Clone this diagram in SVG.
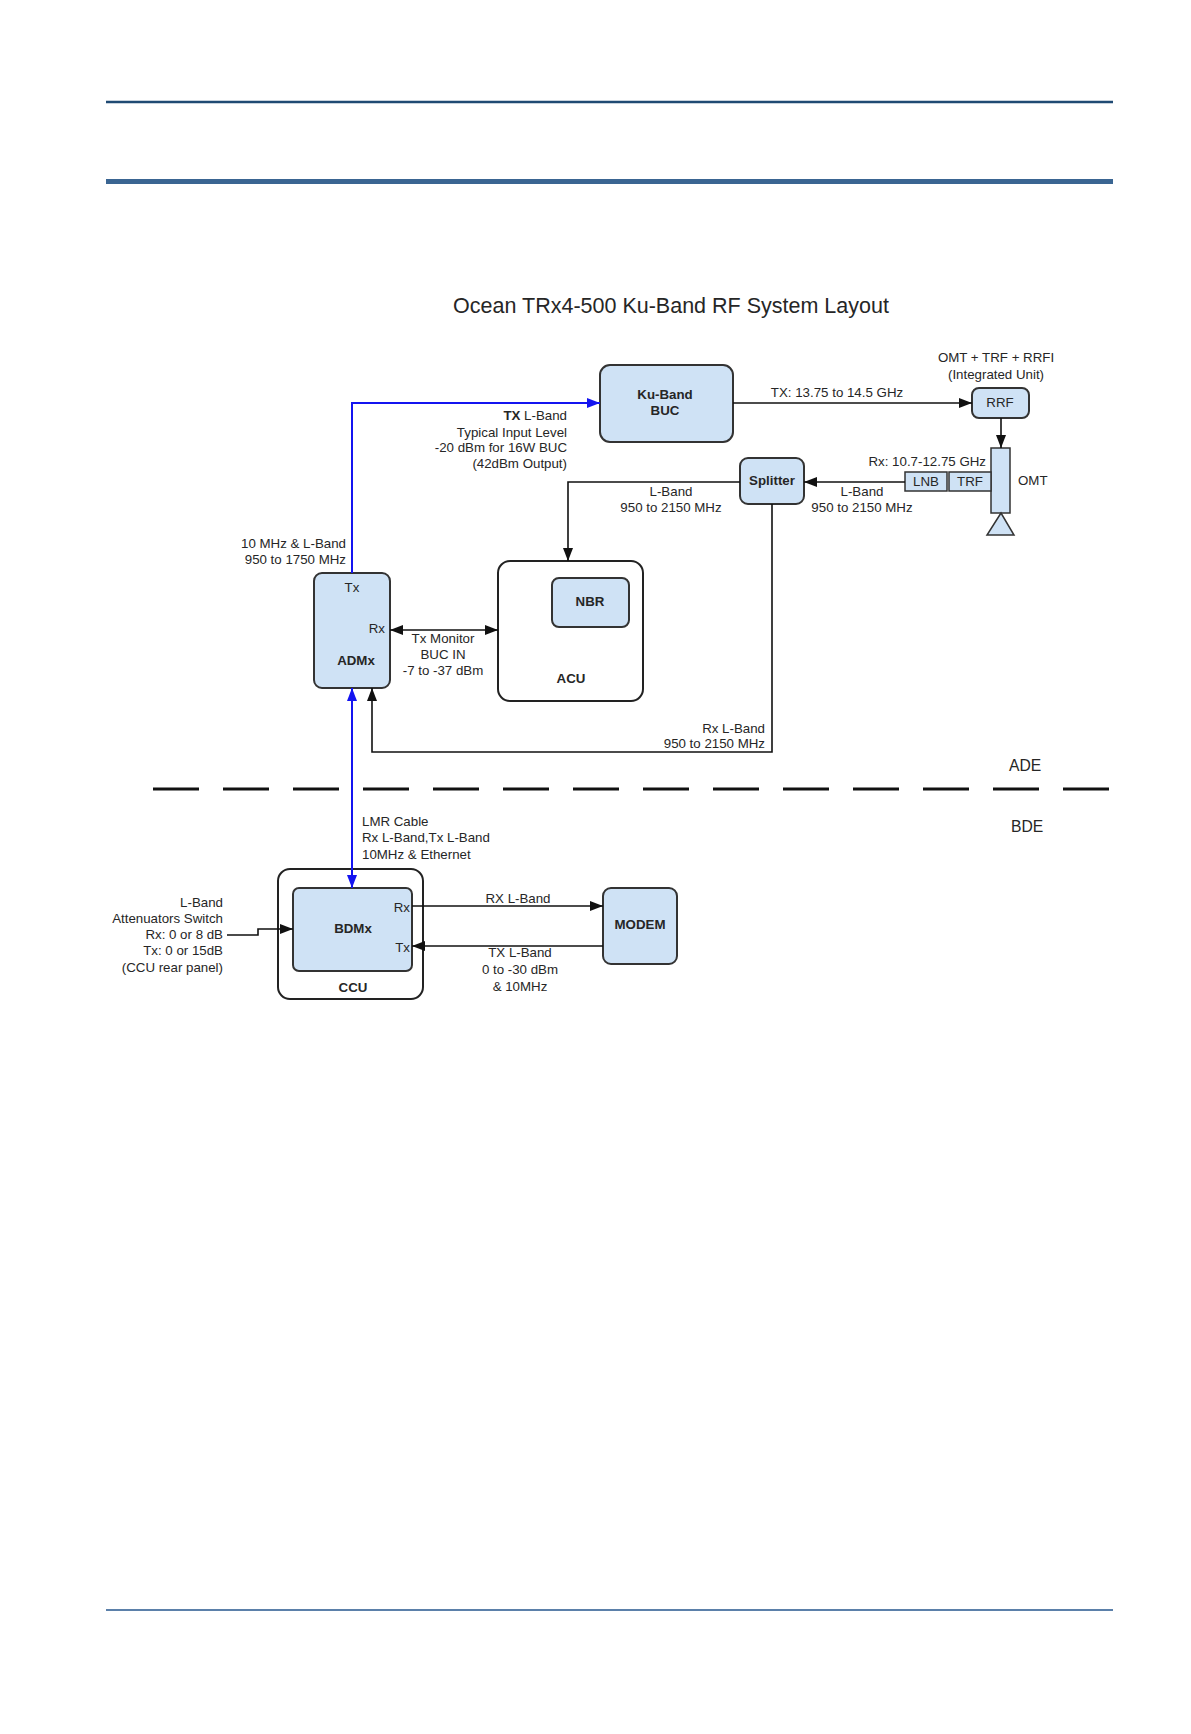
<svg xmlns="http://www.w3.org/2000/svg" width="1191" height="1734" viewBox="0 0 1191 1734">
<style>
text{font-family:"Liberation Sans",Arial,sans-serif;font-size:13.3px;fill:#262626}
.b{font-weight:bold}
.m{text-anchor:middle}
.e{text-anchor:end}
.box{fill:#cfe2f5;stroke:#333;stroke-width:2}
.wbox{fill:#fff;stroke:#222;stroke-width:2}
.c{fill:none;stroke:#111;stroke-width:1.6}
.blue{fill:none;stroke:#1414f0;stroke-width:2}
</style>
<defs>
<marker id="ah" markerUnits="userSpaceOnUse" markerWidth="13" markerHeight="10" refX="13" refY="5" orient="auto-start-reverse"><path d="M0,0 L13,5 L0,10 z" fill="#111"/></marker>
<marker id="bh" markerUnits="userSpaceOnUse" markerWidth="13" markerHeight="10" refX="13" refY="5" orient="auto-start-reverse"><path d="M0,0 L13,5 L0,10 z" fill="#1414f0"/></marker>
</defs>
<rect width="1191" height="1734" fill="#fff"/>
<g id="page">
<line x1="106" y1="102" x2="1113" y2="102" stroke="#1f4a73" stroke-width="2.5"/>
<rect x="106" y="179" width="1007" height="5" fill="#3a6592"/>
<line x1="106" y1="1610" x2="1113" y2="1610" stroke="#5b80aa" stroke-width="2"/>
<text x="671" y="313" class="m" style="font-size:21.5px">Ocean TRx4-500 Ku-Band RF System Layout</text>
<line x1="153" y1="789" x2="1109" y2="789" stroke="#111" stroke-width="3" stroke-dasharray="46 24"/>
<text x="1009" y="771" style="font-size:15.7px">ADE</text>
<text x="1011" y="832" style="font-size:15.7px">BDE</text>
</g>
<g id="buc">
<rect class="box" x="600" y="365" width="133" height="77" rx="10"/>
<text x="665" y="399" class="m b">Ku-Band</text>
<text x="665" y="415" class="m b">BUC</text>
</g>
<g id="rrf">
<text x="996" y="362" class="m">OMT + TRF + RRFI</text>
<text x="996" y="379" class="m">(Integrated Unit)</text>
<rect class="box" x="972" y="388" width="57" height="30" rx="7"/>
<text x="1000" y="407" class="m">RRF</text>
</g>
<g id="omt">
<rect class="box" x="991" y="448" width="19" height="65" style="stroke-width:1.5"/>
<path class="box" d="M1001,513 L987,535 L1014,535 z" style="stroke-width:1.5"/>
<text x="1018" y="485">OMT</text>
</g>
<g id="trf">
<rect class="box" x="949" y="472" width="42" height="19" style="stroke-width:1.5"/>
<text x="970" y="486" class="m">TRF</text>
</g>
<g id="lnb">
<rect class="box" x="905" y="472" width="42" height="19" style="stroke-width:1.5"/>
<text x="926" y="486" class="m">LNB</text>
</g>
<g id="splitter">
<rect class="box" x="740" y="458" width="64" height="46" rx="8"/>
<text x="772" y="485" class="m b">Splitter</text>
</g>
<g id="admx">
<rect class="box" x="314" y="573" width="76" height="115" rx="8"/>
<text x="352" y="592" class="m">Tx</text>
<text x="385" y="633" class="e">Rx</text>
<text x="356" y="665" class="m b">ADMx</text>
</g>
<g id="acu">
<rect class="wbox" x="498" y="561" width="145" height="140" rx="12"/>
<text x="571" y="683" class="m b">ACU</text>
</g>
<g id="nbr">
<rect class="box" x="552" y="578" width="77" height="49" rx="7"/>
<text x="590" y="606" class="m b">NBR</text>
</g>
<g id="ccu">
<rect class="wbox" x="278" y="869" width="145" height="130" rx="12"/>
<text x="353" y="992" class="m b">CCU</text>
</g>
<g id="bdmx">
<rect class="box" x="293" y="888" width="119" height="83" rx="6"/>
<text x="353" y="933" class="m b">BDMx</text>
<text x="410" y="912" class="e">Rx</text>
<text x="410" y="952" class="e">Tx</text>
</g>
<g id="modem">
<rect class="box" x="603" y="888" width="74" height="76" rx="8"/>
<text x="640" y="929" class="m b">MODEM</text>
</g>
<g id="connectors">
<path class="blue" d="M352,573 V403 H600" marker-end="url(#bh)"/>
<path class="blue" d="M352,688 V888" marker-start="url(#bh)" marker-end="url(#bh)"/>
<path class="c" d="M733,403 H972" marker-end="url(#ah)"/>
<path class="c" d="M1001,418 V448" marker-end="url(#ah)"/>
<path class="c" d="M905,482 H804" marker-end="url(#ah)"/>
<path class="c" d="M740,482 H568 V561" marker-end="url(#ah)"/>
<path class="c" d="M772,504 V752 H372 V688" marker-end="url(#ah)"/>
<path class="c" d="M390,630 H498" marker-start="url(#ah)" marker-end="url(#ah)"/>
<path class="c" d="M412,906 H603" marker-end="url(#ah)"/>
<path class="c" d="M603,946 H412" marker-end="url(#ah)"/>
<path class="c" d="M227,935 H258 V929 H293" marker-end="url(#ah)"/>
<text x="837" y="397" class="m">TX: 13.75 to 14.5 GHz</text>
<text x="567" y="420" class="e"><tspan class="b">TX</tspan> L-Band</text>
<text x="567" y="437" class="e">Typical Input Level</text>
<text x="567" y="452" class="e">-20 dBm for 16W BUC</text>
<text x="567" y="468" class="e">(42dBm Output)</text>
<text x="986" y="466" class="e">Rx: 10.7-12.75 GHz</text>
<text x="862" y="496" class="m">L-Band</text>
<text x="862" y="512" class="m">950 to 2150 MHz</text>
<text x="671" y="496" class="m">L-Band</text>
<text x="671" y="512" class="m">950 to 2150 MHz</text>
<text x="346" y="548" class="e">10 MHz &amp; L-Band</text>
<text x="346" y="564" class="e">950 to 1750 MHz</text>
<text x="443" y="643" class="m">Tx Monitor</text>
<text x="443" y="659" class="m">BUC IN</text>
<text x="443" y="675" class="m">-7 to -37 dBm</text>
<text x="765" y="733" class="e">Rx L-Band</text>
<text x="765" y="748" class="e">950 to 2150 MHz</text>
<text x="362" y="826">LMR Cable</text>
<text x="362" y="842">Rx L-Band,Tx L-Band</text>
<text x="362" y="859">10MHz &amp; Ethernet</text>
<text x="518" y="903" class="m">RX L-Band</text>
<text x="520" y="957" class="m">TX L-Band</text>
<text x="520" y="974" class="m">0 to -30 dBm</text>
<text x="520" y="991" class="m">&amp; 10MHz</text>
<text x="223" y="907" class="e">L-Band</text>
<text x="223" y="923" class="e">Attenuators Switch</text>
<text x="223" y="939" class="e">Rx: 0 or 8 dB</text>
<text x="223" y="955" class="e">Tx: 0 or 15dB</text>
<text x="223" y="972" class="e">(CCU rear panel)</text>
</g>
</svg>
